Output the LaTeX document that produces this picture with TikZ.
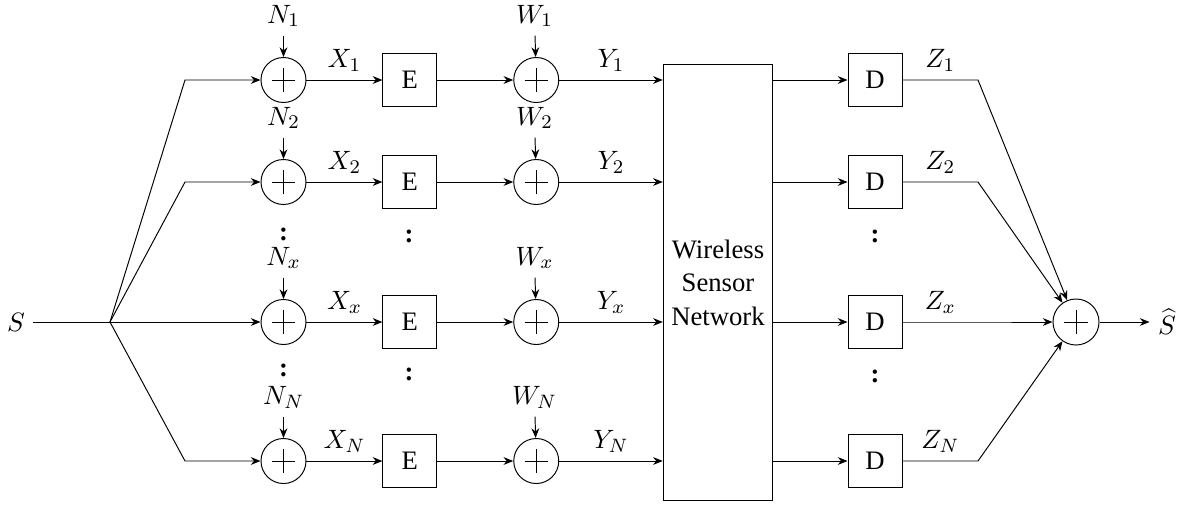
\documentclass[tikz,border=0pt]{standalone}
\usepackage{fontspec}
\setmainfont{LiberationSerif-Regular.ttf}[BoldFont=LiberationSerif-Bold.ttf]
\usetikzlibrary{arrows.meta,positioning}

\begin{document}
\begin{tikzpicture}[
    x=0.0145cm, y=-0.0145cm,
    node distance=1.1cm and 1.1cm,
    every node/.style={font=\rmfamily\fontsize{11}{13.8}\selectfont},
    sumnode/.style={draw, circle, minimum size=0.6525cm, inner sep=0pt,
      path picture={
        \draw ([xshift=-0.17cm]path picture bounding box.center) -- ([xshift=0.17cm]path picture bounding box.center);
        \draw ([yshift=-0.17cm]path picture bounding box.center) -- ([yshift=0.17cm]path picture bounding box.center);}},
    codebox/.style={draw, minimum width=0.783cm, minimum height=0.77cm, inner sep=0pt},
    netbox/.style={draw, align=center, minimum width=1.566cm, minimum height=6.31cm},
    noiselbl/.style={anchor=base},
    vdot/.style={font=\rmfamily\bfseries\fontsize{11}{13.8}\selectfont, inner sep=0pt},
    arr/.style={-{Stealth[length=4pt,width=3.2pt]}}
]
\useasboundingbox (0,0) rectangle (1183,506);

% source and split
\node (src) at (16,322) {$S$};
\coordinate (split) at (110,322);
\coordinate (k1) at (185,80);
\coordinate (k2) at (185,182);
\coordinate (kN) at (185,461);

% first adders
\node[sumnode] (a1) at (283.5,80) {};
\node[sumnode] (a2) at (283.5,182) {};
\node[sumnode] (ax) at (283.5,322) {};
\node[sumnode] (aN) at (283.5,461) {};

\node[noiselbl] (n1) at (283.5,23) {$N_1$};
\node[noiselbl] (n2) at (283.5,125) {$N_2$};
\node[noiselbl] (nx) at (283.5,265) {$N_x$};
\node[noiselbl] (nN) at (283.5,404) {$N_N$};

% encoders
\node[codebox, right=of a1] (e1) {E};
\node[codebox, right=of a2] (e2) {E};
\node[codebox, right=of ax] (ex) {E};
\node[codebox, right=of aN] (eN) {E};

% second adders
\node[sumnode, right=of e1] (b1) {};
\node[sumnode, right=of e2] (b2) {};
\node[sumnode, right=of ex] (bx) {};
\node[sumnode, right=of eN] (bN) {};

\node[noiselbl] (w1) at (534.5,23) {$W_1$};
\node[noiselbl] (w2) at (534.5,125) {$W_2$};
\node[noiselbl] (wx) at (534.5,265) {$W_x$};
\node[noiselbl] (wN) at (534.5,404) {$W_N$};

% network
\node[netbox] (wsn) at (718,282.5) {Wireless\\Sensor\\Network};

% decoders
\node[codebox] (d1) at (875,80) {D};
\node[codebox] (d2) at (875,182) {D};
\node[codebox] (dx) at (875,322) {D};
\node[codebox] (dN) at (875,461) {D};
\coordinate (c1) at (978,80);
\coordinate (c2) at (978,182);
\coordinate (cx) at (978,322);
\coordinate (cN) at (978,461);

\node[sumnode, minimum size=0.667cm] (fsum) at (1076,322) {};
\node (shat) at (1167,322) {$\widehat{S}$};

% vertical dots
\node[vdot] (dotn1) at (283.5,234) {:};
\node[vdot] (dotn2) at (283.5,370) {:};
\node[vdot] (dote1) at (409,236) {:};
\node[vdot] (dote2) at (409,374) {:};
\node[vdot] (dotd1) at (875,236) {:};
\node[vdot] (dotd2) at (875,376) {:};

% connectors
\draw (src) -- (split);
\draw[arr] (split) -- (k1) -- (a1);
\draw[arr] (split) -- (k2) -- (a2);
\draw[arr] (split) -- (ax);
\draw[arr] (split) -- (kN) -- (aN);

\draw[arr] (n1) -- (a1);
\draw[arr] (n2) -- (a2);
\draw[arr] (nx) -- (ax);
\draw[arr] (nN) -- (aN);

\draw[arr] (a1) -- node[above]{$X_1$} (e1);
\draw[arr] (a2) -- node[above]{$X_2$} (e2);
\draw[arr] (ax) -- node[above]{$X_x$} (ex);
\draw[arr] (aN) -- node[above]{$X_N$} (eN);

\draw[arr] (e1) -- (b1);
\draw[arr] (e2) -- (b2);
\draw[arr] (ex) -- (bx);
\draw[arr] (eN) -- (bN);

\draw[arr] (w1) -- (b1);
\draw[arr] (w2) -- (b2);
\draw[arr] (wx) -- (bx);
\draw[arr] (wN) -- (bN);

\draw[arr] (b1) -- node[above]{$Y_1$} (b1 -| wsn.west);
\draw[arr] (b2) -- node[above]{$Y_2$} (b2 -| wsn.west);
\draw[arr] (bx) -- node[above]{$Y_x$} (bx -| wsn.west);
\draw[arr] (bN) -- node[above]{$Y_N$} (bN -| wsn.west);

\draw[arr] (wsn.east |- d1) -- (d1);
\draw[arr] (wsn.east |- d2) -- (d2);
\draw[arr] (wsn.east |- dx) -- (dx);
\draw[arr] (wsn.east |- dN) -- (dN);

\draw[arr] (d1) -- node[above]{$Z_1$} (c1) -- (fsum);
\draw[arr] (d2) -- node[above]{$Z_2$} (c2) -- (fsum);
\draw[arr] (dx) -- node[above]{$Z_x$} (cx) -- (fsum);
\draw[arr] (dN) -- node[above]{$Z_N$} (cN) -- (fsum);

\draw[arr] (fsum) -- (shat);
\end{tikzpicture}
\end{document}
